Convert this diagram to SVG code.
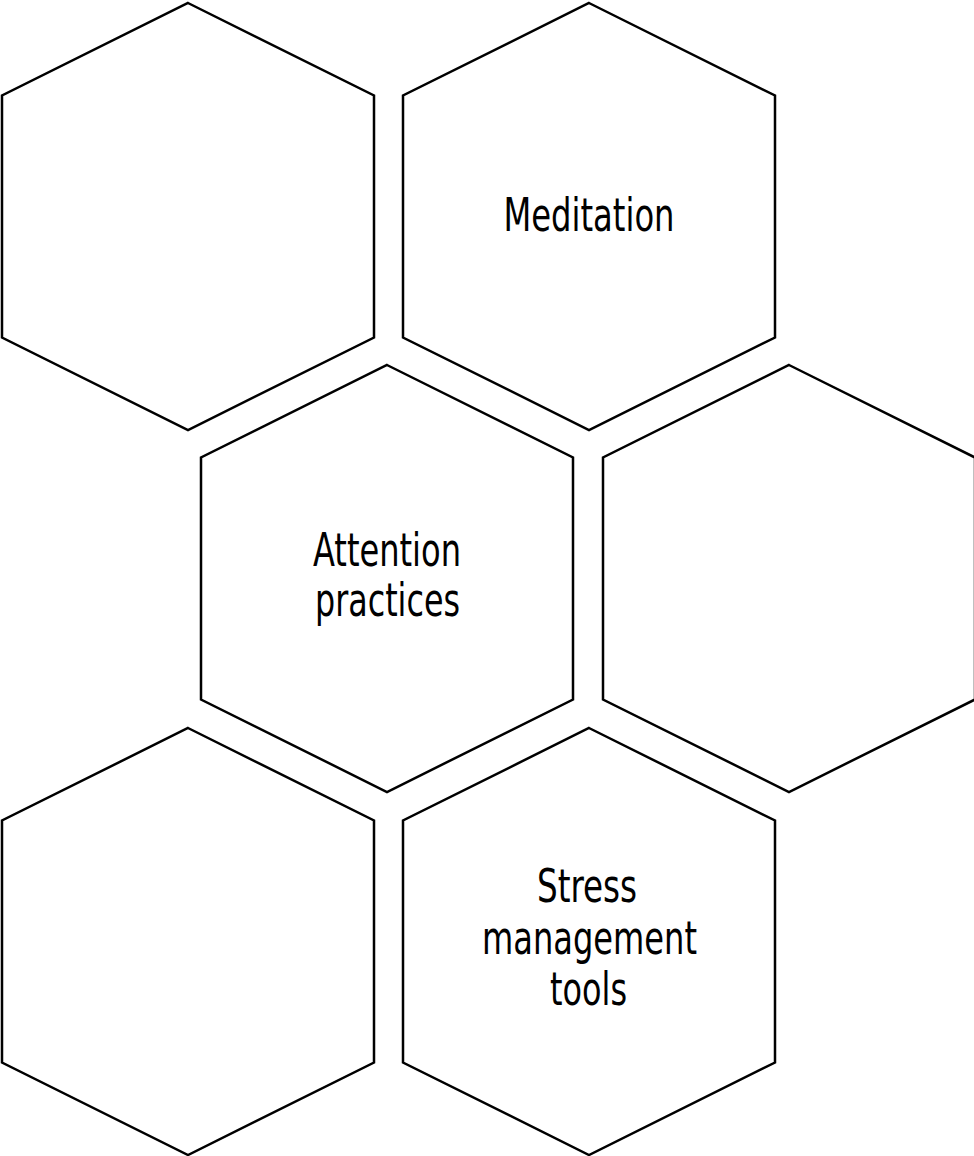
<svg xmlns="http://www.w3.org/2000/svg" width="974" height="1156" viewBox="0 0 974 1156">
<style>
.hex{fill:#fff;stroke:#000;stroke-width:2.5;stroke-linejoin:miter}
.lbl{font-family:"DejaVu Sans Condensed","Liberation Sans",sans-serif;font-size:47px;fill:#000;text-anchor:middle}
</style>
<rect width="974" height="1156" fill="#fff"/>
<g id="connectors"></g>
<g id="hex1"><polygon class="hex" points="188,3 374,95.5 374,337.5 188,430 2,337.5 2,95.5"/></g>
<g id="hex2"><polygon class="hex" points="589,3 775,95.5 775,337.5 589,430 403,337.5 403,95.5"/>
<text class="lbl" x="589" y="231" textLength="171" lengthAdjust="spacingAndGlyphs">Meditation</text></g>
<g id="hex3"><polygon class="hex" points="387,365 573,457.5 573,699.5 387,792 201,699.5 201,457.5"/>
<text class="lbl" x="387" y="566" textLength="148" lengthAdjust="spacingAndGlyphs">Attention</text>
<text class="lbl" x="387.5" y="616" textLength="145" lengthAdjust="spacingAndGlyphs">practices</text></g>
<g id="hex4"><polygon class="hex" points="789,365 975,457.5 975,699.5 789,792 603,699.5 603,457.5"/></g>
<g id="hex5"><polygon class="hex" points="188,728 374,820.5 374,1062.5 188,1155 2,1062.5 2,820.5"/></g>
<g id="hex6"><polygon class="hex" points="589,728 775,820.5 775,1062.5 589,1155 403,1062.5 403,820.5"/>
<text class="lbl" x="587" y="902" textLength="100" lengthAdjust="spacingAndGlyphs">Stress</text>
<text class="lbl" x="589.5" y="954" textLength="215" lengthAdjust="spacingAndGlyphs">management</text>
<text class="lbl" x="588.5" y="1005" textLength="77" lengthAdjust="spacingAndGlyphs">tools</text></g>
</svg>
